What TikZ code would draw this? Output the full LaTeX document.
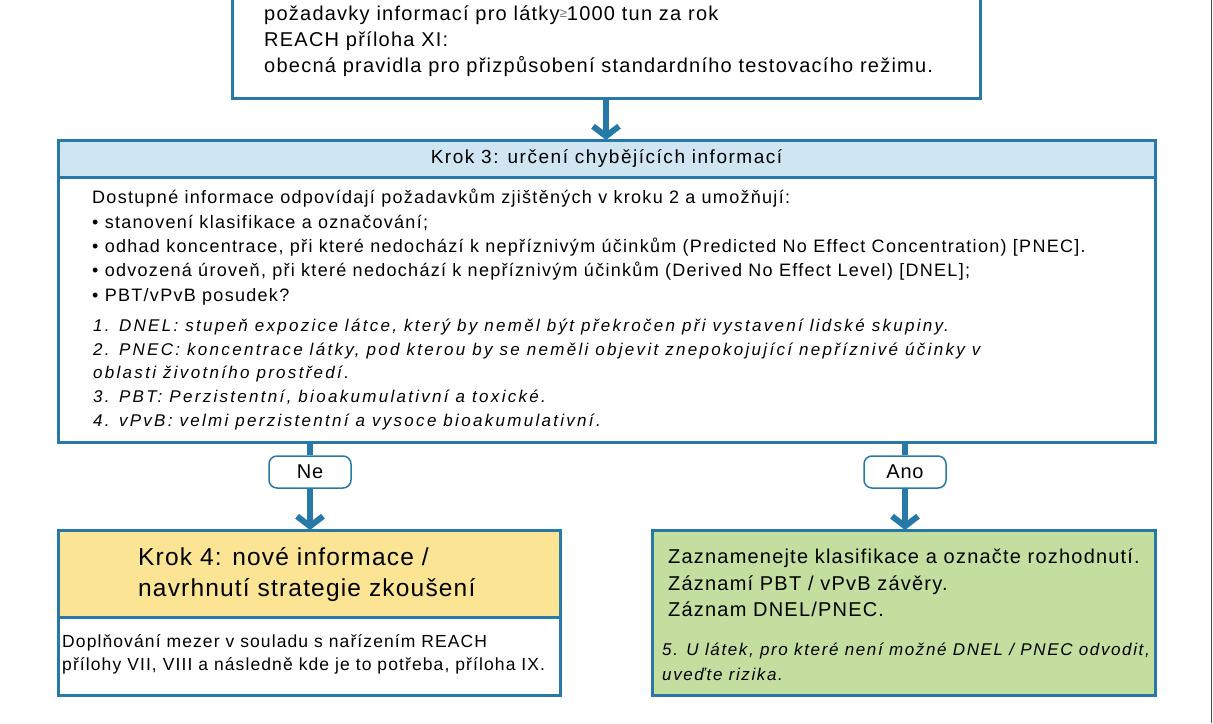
\documentclass[tikz,border=0pt]{standalone}
\usepackage{fontspec}
\setmainfont{Liberation Sans}
\usetikzlibrary{arrows.meta,positioning}
\definecolor{flowblue}{HTML}{2779A7}
\definecolor{hdrblue}{HTML}{CFE6F2}
\definecolor{stepyellow}{HTML}{FBE595}
\definecolor{okgreen}{HTML}{C3DE9E}
\tikzstyle{box} = [rectangle, draw=flowblue, line width=3pt, inner sep=0pt, outer sep=0pt]
\tikzstyle{tag} = [rectangle, rounded corners=8pt, draw=flowblue, line width=1.5pt, fill=white, minimum width=82pt, minimum height=32pt, font=\fontsize{20}{24}\selectfont\addfontfeature{LetterSpace=4}]
\tikzstyle{txt} = [anchor=north west, inner sep=0pt, align=left]
\tikzstyle{link} = [draw=flowblue, line width=6pt]
\tikzstyle{flowarrow} = [link, -{Straight Barb[length=10pt,width=26pt]}]

\begin{document}
\begin{tikzpicture}[x=1pt,y=-1pt]
\useasboundingbox (0,0) rectangle (1213,723);
\node[box, minimum width=748pt, minimum height=120pt, anchor=south west] (reqs) at (232,98) {};
\node[txt, font=\fontsize{20}{26}\selectfont\addfontfeature{LetterSpace=6.2}] (reqstxt) at (264,6) {požadavky informací pro látky\raisebox{3pt}{\color{black!55}\fontsize{13}{13}\selectfont ≥}1000 tun za rok\\REACH příloha XI:\\obecná pravidla pro přizpůsobení standardního testovacího režimu.};
\node[box, fill=hdrblue, minimum width=1097pt, minimum height=37pt, anchor=north west, font=\fontsize{19}{23}\selectfont\addfontfeature{LetterSpace=8}] (k3head) at (58,140) {Krok 3: určení chybějících informací};
\node[box, minimum width=1097pt, minimum height=265pt, anchor=north] (k3body) at (k3head.south) {};
\node[txt, font=\fontsize{18}{24.4}\selectfont\addfontfeature{LetterSpace=7.2}] (k3txt) at (92,189) {Dostupné informace odpovídají požadavkům zjištěných v kroku 2 a umožňují:\\• stanovení klasifikace a označování;\\• odhad koncentrace, při které nedochází k nepříznivým účinkům (Predicted No Effect Concentration) [PNEC].\\• odvozená úroveň, při které nedochází k nepříznivým účinkům (Derived No Effect Level) [DNEL];\\• PBT/vPvB posudek?};
\node[txt, font=\itshape\fontsize{17}{23.6}\selectfont\addfontfeature{LetterSpace=13.5}] (k3notes) at (93,319) {1. DNEL: stupeň expozice látce, který by neměl být překročen při vystavení lidské skupiny.\\2. PNEC: koncentrace látky, pod kterou by se neměli objevit znepokojující nepříznivé účinky v\\oblasti životního prostředí.\\3. PBT: Perzistentní, bioakumulativní a toxické.\\4. vPvB: velmi perzistentní a vysoce bioakumulativní.};
\node[tag] (ne) at (310,472) {Ne};
\node[tag] (ano) at (905,472) {Ano};
\node[box, fill=stepyellow, minimum width=502pt, minimum height=87pt, anchor=north west] (k4head) at (58,530) {};
\node[box, minimum width=502pt, minimum height=78pt, anchor=north] (k4body) at (k4head.south) {};
\node[txt, font=\fontsize{24.5}{31}\selectfont\addfontfeature{LetterSpace=4.8}] (k4txt) at (138,547) {Krok 4: nové informace /\\navrhnutí strategie zkoušení};
\node[txt, font=\fontsize{17.5}{23}\selectfont\addfontfeature{LetterSpace=6.3}] (k4gap) at (62,634) {Doplňování mezer v souladu s nařízením REACH\\přílohy VII, VIII a následně kde je to potřeba, příloha IX.};
\node[box, fill=okgreen, minimum width=503pt, minimum height=165pt, anchor=north west] (record) at (652,530) {};
\node[txt, font=\fontsize{20}{26.3}\selectfont\addfontfeature{LetterSpace=6}] (recordtxt) at (668,549) {Zaznamenejte klasifikace a označte rozhodnutí.\\Záznamí PBT / vPvB závěry.\\Záznam DNEL/PNEC.};
\node[txt, font=\itshape\fontsize{17}{24.5}\selectfont\addfontfeature{LetterSpace=9.5}] (recordnote) at (662,643) {5. U látek, pro které není možné DNEL / PNEC odvodit,\\ uveďte rizika.};
\draw[flowarrow] (reqs.south) -- (k3head.north -| reqs.south);
\draw[link] (k3body.south -| ne) -- (ne.north);
\draw[flowarrow] (ne.south) -- (ne.south |- k4head.north);
\draw[link] (k3body.south -| ano) -- (ano.north);
\draw[flowarrow] (ano.south) -- (ano.south |- record.north);
\draw[black!70, line width=1pt] (1211.5,0) -- (1211.5,723);
\end{tikzpicture}
\end{document}
